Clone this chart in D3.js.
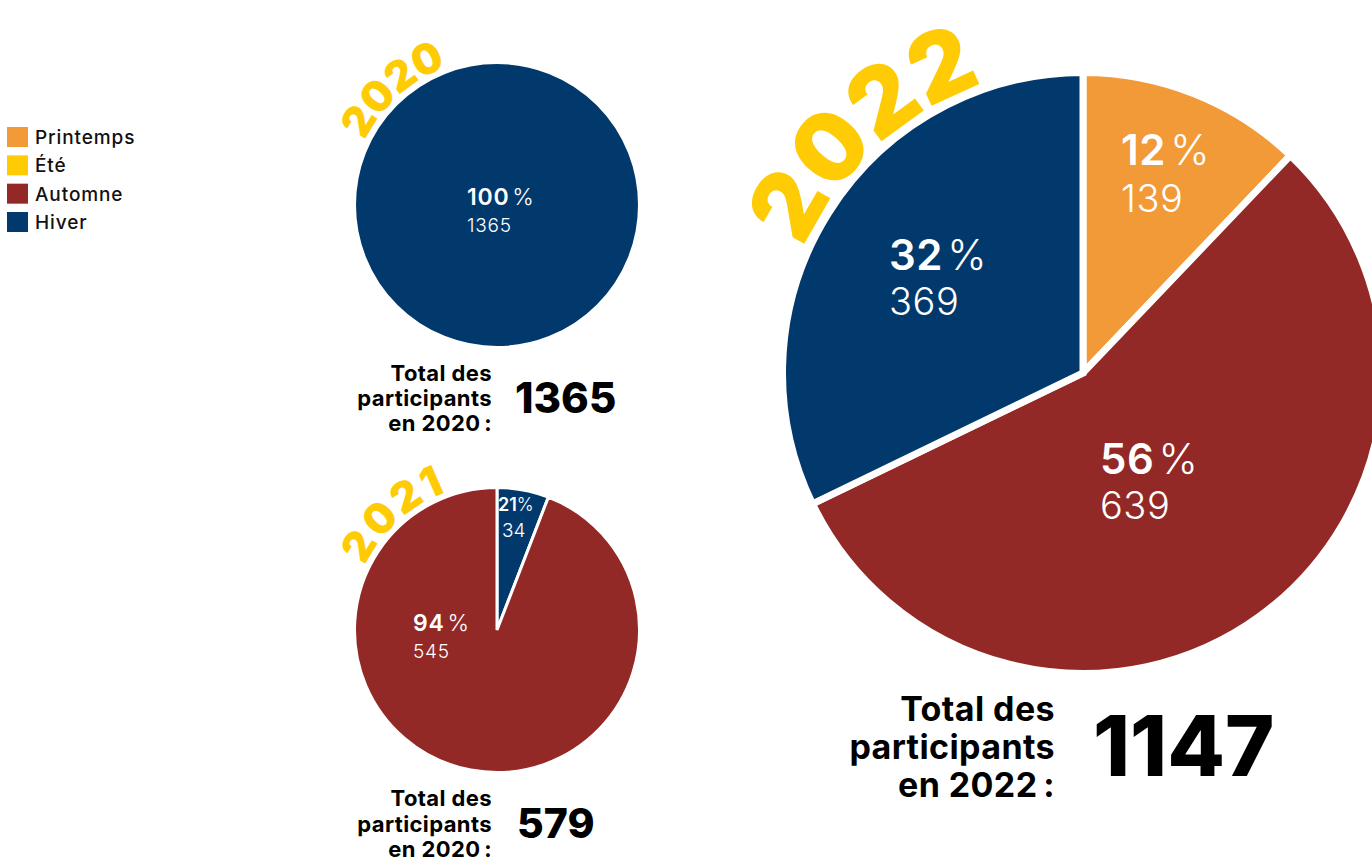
<!DOCTYPE html>
<html><head><meta charset="utf-8">
<script src="https://cdn.jsdelivr.net/npm/d3@7"></script>
<style>
body{margin:0;background:#fff}
svg{display:block}
text{font-family:Inter,"Noto Sans",sans-serif}
</style>
</head><body>
<svg id="c" width="1372" height="863"></svg>
<script>
// ---------- DATA ----------
const seasons = ["Printemps", "Été", "Automne", "Hiver"];
const seasonColors = ["#F29A37", "#FFCB05", "#932926", "#02396C"];
const years = ["2020", "2021", "2022"];
const values2020 = [0, 0, 0, 1365];
const values2021 = [0, 0, 545, 34];
const values2022 = [139, 0, 639, 369];
const sliceOrder2020 = ["Hiver"];
const sliceOrder2021 = ["Hiver", "Automne"];
const sliceOrder2022 = ["Printemps", "Automne", "Hiver"];
const pctLabels2020 = {"Hiver": "100 %"};
const pctLabels2021 = {"Hiver": "21%", "Automne": "94 %"};
const pctLabels2022 = {"Printemps": "12 %", "Automne": "56 %", "Hiver": "32 %"};
const totals = [1365, 579, 1147];
const totalCaptionYears = ["2020", "2020", "2022"];

// ---------- LAYOUT ----------
const layout = [
  {cx: 497, cy: 205, vr: 141, sw: 3, yearFont: 42, yearR: 147, yearA0: -64, yearA1: -20,
   labels: {"Hiver": {x: 467, y1: 205, y2: 232, f1: 23, f2: 19, ls: 0.8}},
   total: {x: 492, ys: [381, 406, 431], f: 22, ls: 0.4, nx: 515, ny: 413, nf: 42}},
  {cx: 497, cy: 630, vr: 141, sw: 3, yearFont: 42, yearR: 147, yearA0: -64, yearA1: -20,
   labels: {"Hiver": {x: 498, y1: 511, y2: 537, f1: 18, f2: 19, ls: 0, dx2: 4},
            "Automne": {x: 413, y1: 631, y2: 658, f1: 23, f2: 19, ls: 0.8}},
   total: {x: 492, ys: [806, 832, 857], f: 22, ls: 0.4, nx: 517, ny: 838, nf: 41}},
  {cx: 1083, cy: 373, vr: 297, sw: 7, yearFont: 94, yearR: 306, yearA0: -66, yearA1: -19,
   labels: {"Printemps": {x: 1121, y1: 165, y2: 212, f1: 42, f2: 38, ls: 0.5},
            "Hiver": {x: 889, y1: 270, y2: 315, f1: 42, f2: 38, ls: 0.5},
            "Automne": {x: 1100, y1: 474, y2: 519, f1: 42, f2: 38, ls: 0.5}},
   total: {x: 1055, ys: [721, 759, 797], f: 34, ls: 0.4, nx: 1093, ny: 776, nf: 84}}
];

const valuesByYear = [values2020, values2021, values2022];
const ordersByYear = [sliceOrder2020, sliceOrder2021, sliceOrder2022];
const pctByYear = [pctLabels2020, pctLabels2021, pctLabels2022];

const color = d3.scaleOrdinal().domain(seasons).range(seasonColors);
const svg = d3.select("#c");

// Legend
const legend = svg.append("g");
const legendY = d3.scalePoint().domain(seasons).range([137, 222]);
seasons.forEach(s => {
  legend.append("rect").attr("x", 7).attr("y", legendY(s) - 10).attr("width", 21).attr("height", 20)
    .attr("fill", color(s));
  legend.append("text").attr("x", 35).attr("y", legendY(s) + 7).attr("font-size", 19)
    .attr("letter-spacing", 0.9).attr("font-weight", 500).attr("fill", "#111").text(s);
});

years.forEach((yr, i) => {
  const L = layout[i];
  const r = L.vr + L.sw / 2;
  const data = ordersByYear[i].map(s => ({season: s, value: valuesByYear[i][seasons.indexOf(s)]}));
  const pie = d3.pie().sort(null).value(d => d.value);
  const arc = d3.arc().innerRadius(0).outerRadius(r);
  const g = svg.append("g").attr("transform", `translate(${L.cx},${L.cy})`);
  g.selectAll("path").data(pie(data)).join("path")
    .attr("d", arc).attr("fill", d => color(d.data.season))
    .attr("stroke", "#fff").attr("stroke-width", L.sw).attr("stroke-linejoin", "miter");

  // slice labels
  data.forEach(d => {
    const lab = L.labels[d.season];
    if (!lab) return;
    const pct = pctByYear[i][d.season];
    const m = pct.match(/^([0-9]+)(\s?%)$/);
    const t = svg.append("text").attr("x", lab.x).attr("y", lab.y1).attr("fill", "#fff")
      .attr("font-size", lab.f1).attr("letter-spacing", lab.ls);
    t.append("tspan").attr("font-weight", 600).text(m[1]);
    t.append("tspan").attr("font-weight", 300).text(m[2].replace(" ", "\u200A"));
    svg.append("text").attr("x", lab.x + (lab.dx2 || 0)).attr("y", lab.y2).attr("fill", "#fff").attr("font-size", lab.f2)
      .attr("letter-spacing", lab.ls).attr("font-weight", 300).text(d.value);
  });

  // curved year
  const rad = a => a * Math.PI / 180;
  const R = L.yearR;
  const p0 = [L.cx + R * Math.sin(rad(L.yearA0)), L.cy - R * Math.cos(rad(L.yearA0))];
  const p1 = [L.cx + R * Math.sin(rad(L.yearA1)), L.cy - R * Math.cos(rad(L.yearA1))];
  const id = "yp" + yr;
  svg.append("defs").append("path").attr("id", id)
    .attr("d", `M${p0[0]},${p0[1]} A${R},${R} 0 0 1 ${p1[0]},${p1[1]}`);
  const target = R * rad(L.yearA1 - L.yearA0);
  const yt = svg.append("text").attr("font-size", L.yearFont).attr("font-weight", 900).attr("fill", "#FFCB05");
  yt.append("textPath").attr("href", "#" + id).attr("startOffset", 0).text(yr);
  const len = yt.node().getComputedTextLength();
  yt.attr("letter-spacing", (target - len) / 3.5);

  // totals
  const T = L.total;
  const lines = ["Total des", "participants", "en " + totalCaptionYears[i] + "\u202F:"];
  lines.forEach((ln, k) => {
    svg.append("text").attr("x", T.x).attr("y", T.ys[k]).attr("text-anchor", "end")
      .attr("font-size", T.f).attr("letter-spacing", T.ls).attr("font-weight", 700).attr("fill", "#000").text(ln);
  });
  svg.append("text").attr("x", T.nx).attr("y", T.ny).attr("font-size", T.nf)
    .attr("font-weight", 800).attr("fill", "#000").text(totals[i]);
});
</script>
</body></html>
